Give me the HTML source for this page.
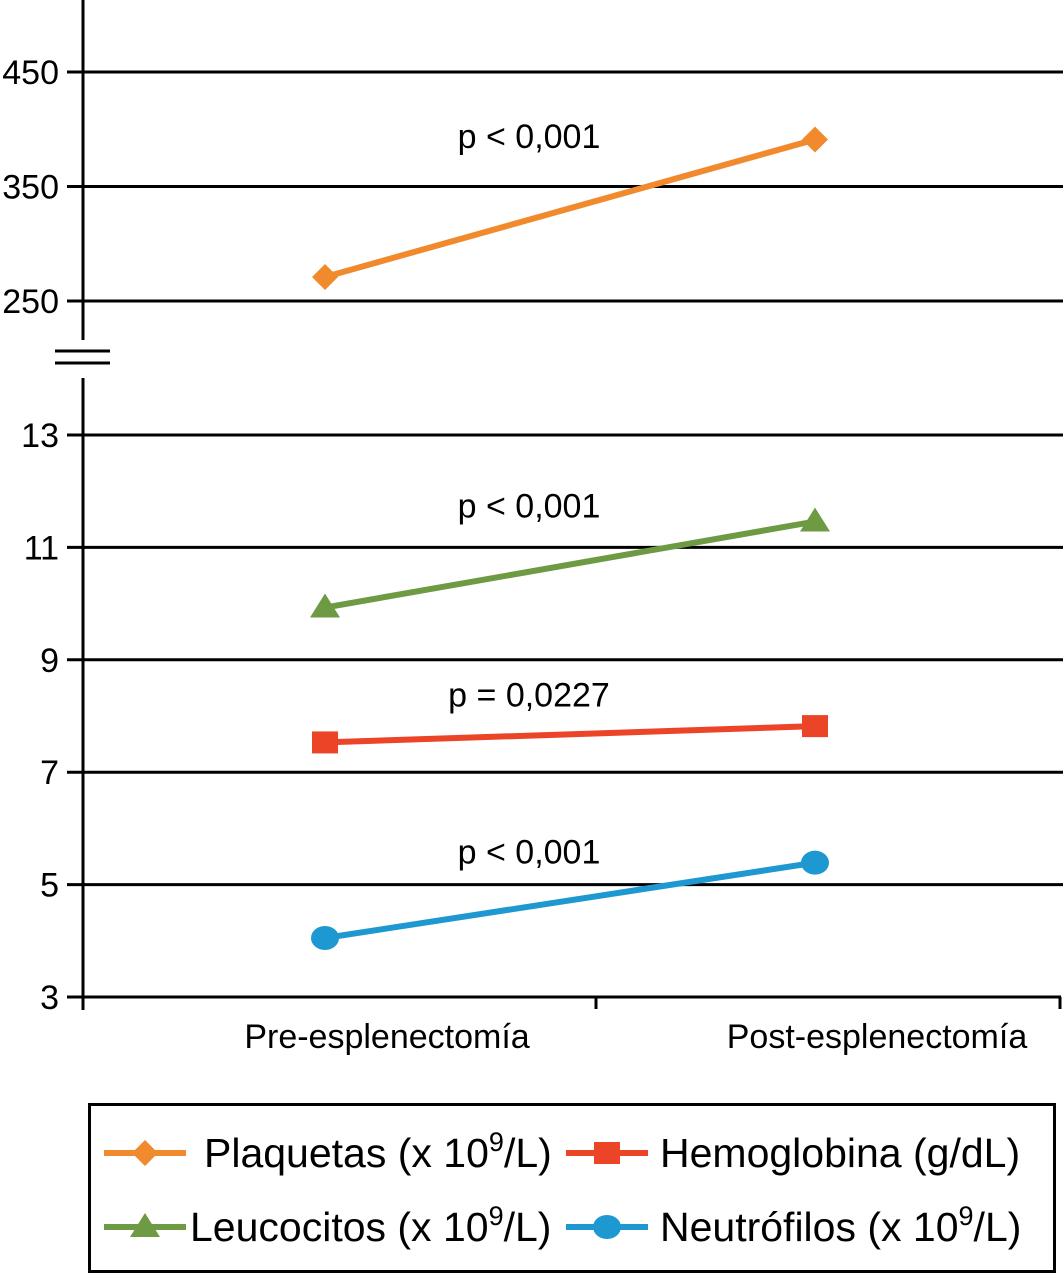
<!DOCTYPE html>
<html><head><meta charset="utf-8"><style>
html,body{margin:0;padding:0;background:#fff}
svg{display:block;font-family:"Liberation Sans",Arial,sans-serif}
</style></head><body>
<svg id="c" width="1063" height="1275" viewBox="0 0 1063 1275">
<g id="grid"></g><g id="axes"></g><g id="series"></g><g id="labels"></g><g id="legend"></g>
</svg>
<script>
const categories = ["Pre-esplenectomía","Post-esplenectomía"];
const plaquetas = [271, 391];
const leucocitos = [9.93, 11.46];
const hemoglobina = [7.53, 7.82];
const neutrofilos = [4.05, 5.39];
const topTicks = [250, 350, 450];
const bottomTicks = [3, 5, 7, 9, 11, 13];
const pLabels = ["p < 0,001","p < 0,001","p = 0,0227","p < 0,001"];
const pValuesY = [394, 11.75, 8.38, 5.59];

const NS="http://www.w3.org/2000/svg";
function mk(tag,attrs,parent,text){const e=document.createElementNS(NS,tag);for(const k in attrs)e.setAttribute(k,attrs[k]);if(text!==undefined)e.textContent=text;parent.appendChild(e);return e;}
const yTop=v=>72+(450-v)*1.145;
const yBot=v=>997-(v-3)*56.2;
const xCat=i=>[325,815][i];
const G=document.getElementById('grid'),A=document.getElementById('axes'),S=document.getElementById('series'),L=document.getElementById('labels'),LG=document.getElementById('legend');

topTicks.forEach(t=>{const y=yTop(t);
 const l=mk('line',{x1:67,x2:1063,y1:y,y2:y,stroke:'#000','stroke-width':3},G);
 
 const tx=mk('text',{x:59,y:y+12,'text-anchor':'end','font-size':34},G,String(t));
 });
bottomTicks.forEach(t=>{const y=yBot(t);
 if(t>3){const l=mk('line',{x1:67,x2:1063,y1:y,y2:y,stroke:'#000','stroke-width':3},G);
 }
 const tx=mk('text',{x:59,y:y+12,'text-anchor':'end','font-size':34},G,String(t));
 });

let e;
e=mk('line',{x1:83,x2:83,y1:0,y2:340,stroke:'#000','stroke-width':3},A);
e=mk('line',{x1:83,x2:83,y1:378,y2:1010,stroke:'#000','stroke-width':3},A);
e=mk('line',{x1:55,x2:110,y1:351,y2:351,stroke:'#000','stroke-width':3},A);
e=mk('line',{x1:55,x2:110,y1:363,y2:363,stroke:'#000','stroke-width':3},A);
e=mk('line',{x1:67,x2:1061,y1:997,y2:997,stroke:'#000','stroke-width':3},A);
[596,1060].forEach(x=>{e=mk('line',{x1:x,x2:x,y1:997,y2:1009,stroke:'#000','stroke-width':3},A);});
categories.forEach((c,i)=>{e=mk('text',{x:[387,877][i],y:1048,'text-anchor':'middle','font-size':34},A,c);});

function marker(kind,x,y,color,parent){let m;
 if(kind==='diamond')m=mk('polygon',{points:`${x},${y-13} ${x+13},${y} ${x},${y+13} ${x-13},${y}`,fill:color},parent);
 else if(kind==='square')m=mk('rect',{x:x-13,y:y-11,width:26,height:22,fill:color},parent);
 else if(kind==='triangle')m=mk('polygon',{points:`${x},${y-14} ${x+15},${y+10} ${x-15},${y+10}`,fill:color},parent);
 else m=mk('ellipse',{cx:x,cy:y,rx:14,ry:12,fill:color},parent);
 return m;}
const series=[
 {name:'plaquetas',vals:plaquetas,y:yTop,color:'#f08a2c',m:'diamond'},
 {name:'leucocitos',vals:leucocitos,y:yBot,color:'#6f9a44',m:'triangle'},
 {name:'hemoglobina',vals:hemoglobina,y:yBot,color:'#ec4426',m:'square'},
 {name:'neutrofilos',vals:neutrofilos,y:yBot,color:'#1e98d0',m:'circle'}];
series.forEach((s,si)=>{
 const l=mk('line',{x1:xCat(0),y1:s.y(s.vals[0]),x2:xCat(1),y2:s.y(s.vals[1]),stroke:s.color,'stroke-width':6},S);
 
 s.vals.forEach((v,i)=>{const m=marker(s.m,xCat(i),s.y(v),s.color,S);
  });
 const t=mk('text',{x:529,y:s.y(pValuesY[si])+12,'text-anchor':'middle','font-size':34},L,pLabels[si]);
 
});

e=mk('rect',{x:89.5,y:1104.5,width:965,height:167,fill:'none',stroke:'#000','stroke-width':3},LG);
const legendItems=[
 {s:0,x:104,y:1153,text:'Plaquetas (x 10',sup:'9',end:'/L)',tx:204},
 {s:2,x:566,y:1153,text:'Hemoglobina (g/dL)',tx:660},
 {s:1,x:104,y:1227,text:'Leucocitos (x 10',sup:'9',end:'/L)',tx:190},
 {s:3,x:566,y:1227,text:'Neutrófilos (x 10',sup:'9',end:'/L)',tx:660}];
legendItems.forEach(it=>{const s=series[it.s];
 const g=mk('g',{},LG);
 mk('line',{x1:it.x,x2:it.x+82,y1:it.y,y2:it.y,stroke:s.color,'stroke-width':6},g);
 marker(s.m,it.x+41,it.y,s.color,g);
 const t=mk('text',{x:it.tx,y:it.y+14,'font-size':41},g);
 mk('tspan',{},t,it.text);
 if(it.sup){mk('tspan',{dy:-16,'font-size':27},t,it.sup);mk('tspan',{dy:16},t,it.end);}
});
</script>
</body></html>
